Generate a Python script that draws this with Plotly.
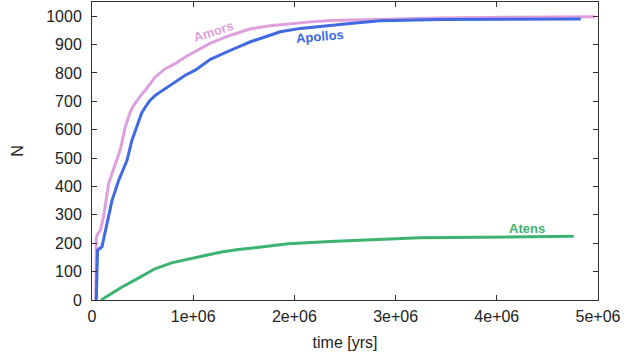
import plotly.graph_objects as go

# Cumulative counts
amors_t = [38000, 42000, 60000, 82000, 115000, 131000, 164000, 197000, 247000, 280000,
           329000, 355000, 378000, 410000, 444000, 485000, 527000, 575000, 625000,
           724000, 823000, 922000, 1020000, 1170000, 1370000, 1560000, 1760000,
           1960000, 2160000, 2360000, 2850000, 3440000, 4100000, 4970000]
amors_n = [0, 220, 235, 245, 295, 330, 410, 445, 500, 530,
           610, 640, 662, 685, 704, 722, 739, 763, 786,
           815, 833, 856, 875, 905, 933, 955, 966,
           974, 980, 985, 990, 994, 996, 998]

apollos_t = [42000, 55000, 99000, 131000, 198000, 263000, 329000, 346000, 395000, 461000,
             490000, 527000, 570000, 625000, 724000, 823000, 922000, 1020000, 1170000,
             1370000, 1560000, 1760000, 1860000, 2060000, 2290000, 2550000, 2850000,
             3440000, 4830000]
apollos_n = [0, 175, 188, 245, 351, 421, 481, 492, 563, 633,
             658, 680, 702, 721, 745, 768, 792, 810, 848,
             880, 909, 933, 945, 957, 964, 974, 984,
             988, 990]

atens_t = [89000, 293000, 458000, 622000, 787000, 952000, 1117000, 1280000, 1446000,
           1610000, 1775000, 1940000, 2350000, 2850000, 3240000, 3840000, 4760000]
atens_n = [0, 45, 77, 110, 131, 145, 157, 169, 178,
           184, 192, 198, 206, 213, 219, 221, 225]

x_ticks = [0, 1e6, 2e6, 3e6, 4e6, 5e6]
x_tick_labels = ['0', '1e+06', '2e+06', '3e+06', '4e+06', '5e+06']
y_ticks = [0, 100, 200, 300, 400, 500, 600, 700, 800, 900, 1000]

series = [
    ('Amors', amors_t, amors_n, '#dda0dd'),
    ('Apollos', apollos_t, apollos_n, '#4169e1'),
    ('Atens', atens_t, atens_n, '#3cb371'),
]

fig = go.Figure()
for name, t, n, color in series:
    fig.add_trace(go.Scatter(x=t, y=n, mode='lines', name=name,
                             line=dict(color=color, width=3), showlegend=False))

# Curve labels
labels = [
    ('Amors', 1.2e6, 945, '#dda0dd', -18),
    ('Apollos', 2.25e6, 930, '#4169e1', -5),
    ('Atens', 4.3e6, 251, '#3cb371', 0),
]
for text, x, y, color, angle in labels:
    fig.add_annotation(x=x, y=y, text='<b>' + text + '</b>', showarrow=False,
                       textangle=angle, font=dict(color=color, size=13,
                                                  family='Liberation Sans'))

axis_style = dict(showline=True, linecolor='#333333', linewidth=1, mirror='ticks',
                  ticks='inside', ticklen=5, tickcolor='#333333', showgrid=False,
                  zeroline=False, automargin=False,
                  tickfont=dict(size=16, color='#222222'))

fig.update_xaxes(range=[0, 5e6], tickvals=x_ticks, ticktext=x_tick_labels,
                 ticklabelstandoff=2,
                 title=dict(text='time [yrs]', font=dict(size=16, color='#222222'), standoff=12),
                 **axis_style)
fig.update_yaxes(range=[0, 1050], tickvals=y_ticks, ticklabelstandoff=6,
                 title=dict(text='N', font=dict(size=16, color='#222222'), standoff=18),
                 **axis_style)

fig.update_layout(
    width=628, height=353,
    margin=dict(l=92, r=30, t=2, b=53),
    plot_bgcolor='white', paper_bgcolor='white',
    font=dict(family='Liberation Sans'),
)

# page body has a default 8px margin; drop it so the figure sits at the corner
fig.write_html('out.html', config={'displayModeBar': False},
               post_script="document.body.style.margin='0px';")
